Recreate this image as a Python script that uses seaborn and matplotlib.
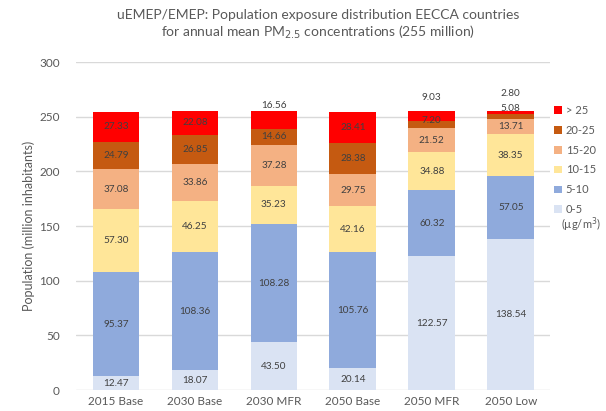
import numpy as np
import pandas as pd
import matplotlib
matplotlib.use("Agg")
import matplotlib.pyplot as plt
import seaborn as sns
from matplotlib.patches import Patch

scenarios = ["2015 Base", "2030 Base", "2030 MFR", "2050 Base", "2050 MFR", "2050 Low"]
bins = ["0-5", "5-10", "10-15", "15-20", "20-25", "> 25"]
v_0_5 = [12.47, 18.07, 43.50, 20.14, 122.57, 138.54]
v_5_10 = [95.37, 108.36, 108.28, 105.76, 60.32, 57.05]
v_10_15 = [57.30, 46.25, 35.23, 42.16, 34.88, 38.35]
v_15_20 = [37.08, 33.86, 37.28, 29.75, 21.52, 13.71]
v_20_25 = [24.79, 26.85, 14.66, 28.38, 7.20, 5.08]
v_gt25 = [27.33, 22.08, 16.56, 28.41, 9.03, 2.80]
colors = ["#DAE3F3", "#8FAADC", "#FFE699", "#F4B183", "#C55A11", "#FF0000"]

series = [v_0_5, v_5_10, v_10_15, v_15_20, v_20_25, v_gt25]
vals = np.array(series)
cum = np.cumsum(vals, axis=0)

sns.set_theme(style="white")
plt.rcParams['font.family'] = ['Lato', 'DejaVu Sans']
grey = "#595959"

fig = plt.figure(figsize=(6.06, 4.11), dpi=100)
ax = fig.add_axes([0.126, 0.051, 0.782, 0.798])

# draw cumulative totals from top layer down so each visible part is one segment
for i in range(len(bins) - 1, -1, -1):
    df = pd.DataFrame({"scenario": scenarios, "value": cum[i]})
    sns.barplot(data=df, x="scenario", y="value", color=colors[i], width=0.59,
                saturation=1, linewidth=0, ax=ax, zorder=3)

ax.set_ylim(0, 300)
ax.set_xlim(-0.5, 5.5)
ax.set_yticks(range(0, 301, 50))
ax.yaxis.grid(True, color="#D9D9D9", linewidth=1, zorder=0)
ax.set_axisbelow(True)
for s in ax.spines.values():
    s.set_visible(False)
ax.tick_params(axis="both", length=0, colors=grey, labelsize=8.5)
ax.tick_params(axis="y", pad=12)
ax.tick_params(axis="x", pad=4)
ax.set_xlabel("")
ax.set_ylabel("Population (million inhabitants)", color=grey, fontsize=9, labelpad=3)

# segment labels
lab_col = "#404040"
for j in range(len(scenarios)):
    for i in range(len(bins)):
        v = vals[i, j]
        y = cum[i, j] - v / 2
        if v < 20 and i >= 4:
            top = cum[-1, j]
            if j == 2 and i == 5:
                y = top + 5
            elif j == 4 and i == 5:
                y = top + 12
            elif j == 4 and i == 4:
                y = cum[i, j] - v / 2 + 4
            elif j == 5 and i == 5:
                y = top + 16
            elif j == 5 and i == 4:
                y = top + 2
        ax.text(j, y, f"{v:.2f}", ha="center", va="center", fontsize=7.2, color=lab_col, zorder=5)

handles = [Patch(facecolor=colors[i], edgecolor="none") for i in range(len(bins) - 1, -1, -1)]
labels = [bins[i] for i in range(len(bins) - 1, -1, -1)]
leg = fig.legend(handles, labels, loc="upper left", bbox_to_anchor=(0.915, 0.745),
                 frameon=False, fontsize=8, handlelength=0.7, handleheight=0.7,
                 handletextpad=0.3, labelspacing=0.8, borderpad=0, borderaxespad=0)
for t in leg.get_texts():
    t.set_color(grey)
fig.text(0.925, 0.452, "(µg/m$^3$)", color=grey, fontsize=8, ha="left", va="center")

fig.text(0.525, 0.963, "uEMEP/EMEP: Population exposure distribution EECCA countries",
         ha="center", va="center", fontsize=10, color=grey)
fig.text(0.525, 0.922, "for annual mean PM$_{2.5}$ concentrations (255 million)",
         ha="center", va="center", fontsize=10, color=grey)

fig.savefig("out.png", dpi=100)
